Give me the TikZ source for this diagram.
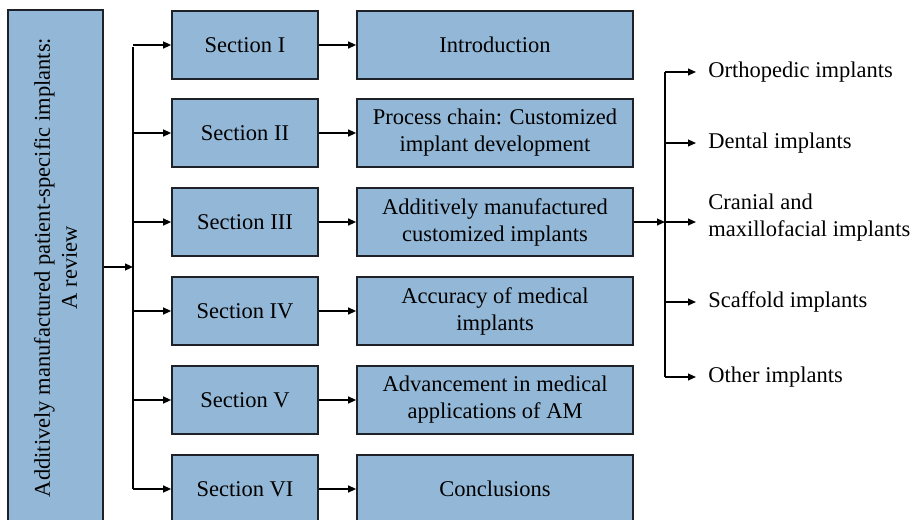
\documentclass[tikz,border=0pt]{standalone}
\usepackage{fontspec}
\setmainfont{Liberation Serif}
\usetikzlibrary{arrows.meta}
\definecolor{boxfill}{RGB}{147,183,214}
\definecolor{boxline}{RGB}{30,34,40}
\begin{document}
\begin{tikzpicture}[x=0.5pt,y=-0.5pt,
  box/.style={draw=boxline, fill=boxfill, line width=0.8pt, align=center,
    inner sep=0pt, font=\fontsize{11.25}{13.5}\selectfont},
  secbox/.style={box, minimum width=73pt, minimum height=34pt},
  topbox/.style={box, minimum width=138pt, minimum height=34pt},
  lbl/.style={anchor=west, align=left, inner sep=0pt, font=\fontsize{11.25}{13.5}\selectfont},
  conn/.style={line width=0.8pt, -{Triangle[length=4pt,width=3.4pt]}},
  ln/.style={line width=0.8pt}]
\useasboundingbox (0,0) rectangle (920,519);
% left box
\node[box, minimum width=47.5pt, minimum height=257.5pt] (L) at (55.5,267.5) {};
\node[rotate=90, align=center, font=\fontsize{11.25}{13.5}\selectfont] (Lt) at (L.center) {Additively manufactured patient-specific implants:\\A review};
% sections
\node[secbox] (s1) at (245,45) {Section I};
\node[secbox] (s2) at (245,133) {Section II};
\node[secbox] (s3) at (245,222) {Section III};
\node[secbox] (s4) at (245,311) {Section IV};
\node[secbox] (s5) at (245,400) {Section V};
\node[secbox] (s6) at (245,489) {Section VI};
% topics
\node[topbox] (t1) at (495,45) {Introduction};
\node[topbox] (t2) at (495,133) {Process chain: Customized\\implant development};
\node[topbox] (t3) at (495,222) {Additively manufactured\\customized implants};
\node[topbox] (t4) at (495,311) {Accuracy of medical\\implants};
\node[topbox] (t5) at (495,400) {Advancement in medical\\applications of AM};
\node[topbox] (t6) at (495,489) {Conclusions};
% trunk
\coordinate (j0) at (133,267);
\coordinate (ja) at (133,47);
\coordinate (jb) at (133,489);
\draw[conn] (L.east |- j0) -- (j0);
\draw[ln] (ja) -- (jb);
\foreach \i in {1,...,6} {
  \draw[conn] (ja |- s\i.west) -- (s\i.west);
  \draw[conn] (s\i.east) -- (t\i.west);
}
% right labels
\node[lbl] (r1) at (708,72) {Orthopedic implants};
\node[lbl] (r2) at (708,143) {Dental implants};
\node[lbl] (r3) at (708,218) {Cranial and\\maxillofacial implants};
\node[lbl] (r4) at (708,302) {Scaffold implants};
\node[lbl] (r5) at (708,377) {Other implants};
\coordinate (k0) at (665,222);
\coordinate (ka) at (665,72);
\coordinate (kb) at (665,377);
\draw[conn] (t3.east) -- (k0);
\draw[ln] (ka) -- (kb);
\draw[conn] (ka) -- ([xshift=-6]r1.west);
\draw[conn] (ka |- r2.west) -- ([xshift=-6]r2.west);
\draw[conn] (k0) -- ([xshift=-6]r3.west |- k0);
\draw[conn] (ka |- r4.west) -- ([xshift=-6]r4.west);
\draw[conn] (kb) -- ([xshift=-6]r5.west);
\end{tikzpicture}
\end{document}
